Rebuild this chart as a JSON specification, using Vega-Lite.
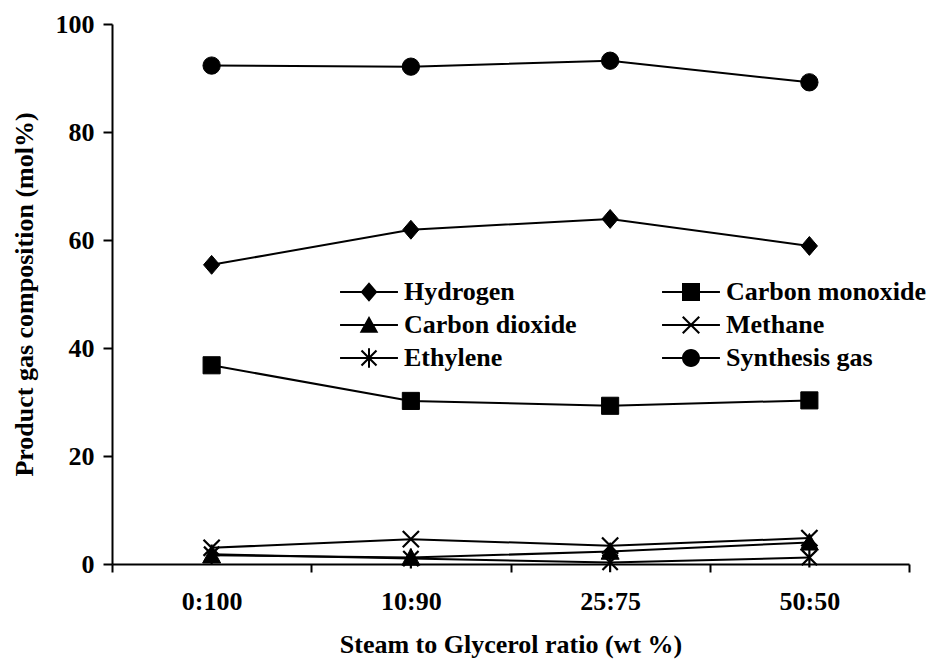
{
  "$schema": "https://vega.github.io/schema/vega-lite/v6.json",
  "width": 797,
  "height": 540,
  "autosize": {"type": "none"},
  "padding": {"left": 112, "top": 24, "right": 30, "bottom": 96},
  "background": "white",
  "config": {"view": {"stroke": null}, "font": "Liberation Serif"},
  "data": {
    "values": [
      {"ratio": "0:100", "gas": "Hydrogen", "value": 55.4},
      {"ratio": "10:90", "gas": "Hydrogen", "value": 61.9},
      {"ratio": "25:75", "gas": "Hydrogen", "value": 63.9},
      {"ratio": "50:50", "gas": "Hydrogen", "value": 58.9},
      {"ratio": "0:100", "gas": "Carbon monoxide", "value": 36.8},
      {"ratio": "10:90", "gas": "Carbon monoxide", "value": 30.2},
      {"ratio": "25:75", "gas": "Carbon monoxide", "value": 29.3},
      {"ratio": "50:50", "gas": "Carbon monoxide", "value": 30.3},
      {"ratio": "0:100", "gas": "Carbon dioxide", "value": 1.6},
      {"ratio": "10:90", "gas": "Carbon dioxide", "value": 1.2},
      {"ratio": "25:75", "gas": "Carbon dioxide", "value": 2.3},
      {"ratio": "50:50", "gas": "Carbon dioxide", "value": 4.0},
      {"ratio": "0:100", "gas": "Methane", "value": 3.0},
      {"ratio": "10:90", "gas": "Methane", "value": 4.6},
      {"ratio": "25:75", "gas": "Methane", "value": 3.4},
      {"ratio": "50:50", "gas": "Methane", "value": 4.8},
      {"ratio": "0:100", "gas": "Ethylene", "value": 1.8},
      {"ratio": "10:90", "gas": "Ethylene", "value": 1.0},
      {"ratio": "25:75", "gas": "Ethylene", "value": 0.3},
      {"ratio": "50:50", "gas": "Ethylene", "value": 1.2},
      {"ratio": "0:100", "gas": "Synthesis gas", "value": 92.3},
      {"ratio": "10:90", "gas": "Synthesis gas", "value": 92.1},
      {"ratio": "25:75", "gas": "Synthesis gas", "value": 93.2},
      {"ratio": "50:50", "gas": "Synthesis gas", "value": 89.2}
    ]
  },
  "encoding": {
    "x": {
      "field": "ratio",
      "type": "nominal",
      "sort": ["0:100", "10:90", "25:75", "50:50"],
      "scale": {"type": "band", "paddingInner": 0, "paddingOuter": 0},
      "axis": {
        "title": "Steam to Glycerol ratio (wt %)",
        "titleFontSize": 26,
        "titleFontWeight": "bold",
        "titleColor": "black",
        "titlePadding": 17,
        "labelAngle": 0,
        "labelFontSize": 26,
        "labelFontWeight": "bold",
        "labelColor": "black",
        "labelPadding": 16,
        "tickBand": "extent",
        "tickSize": 8,
        "tickWidth": 2,
        "tickColor": "black",
        "domainColor": "black",
        "domainWidth": 2,
        "grid": false
      }
    },
    "y": {
      "field": "value",
      "type": "quantitative",
      "scale": {"domain": [0, 100], "nice": false},
      "axis": {
        "title": "Product gas composition (mol%)",
        "titleFontSize": 26,
        "titleFontWeight": "bold",
        "titleColor": "black",
        "titlePadding": 18,
        "values": [0, 20, 40, 60, 80, 100],
        "labelFontSize": 26,
        "labelFontWeight": "bold",
        "labelColor": "black",
        "labelPadding": 9,
        "tickSize": 9,
        "tickWidth": 2,
        "tickColor": "black",
        "domainColor": "black",
        "domainWidth": 2,
        "grid": false
      }
    }
  },
  "layer": [
    {
      "mark": {"type": "line", "color": "black", "strokeWidth": 2},
      "encoding": {"detail": {"field": "gas", "type": "nominal"}}
    },
    {
      "transform": [{"filter": "datum.gas == 'Hydrogen'"}],
      "mark": {"type": "point", "shape": "M0,-1.05L0.9,0L0,1.05L-0.9,0Z", "filled": true, "fill": "black", "stroke": "black", "strokeWidth": 1, "opacity": 1, "size": 324},
      "encoding": {}
    },
    {
      "transform": [{"filter": "datum.gas == 'Carbon monoxide'"}],
      "mark": {"type": "point", "shape": "M-0.95,-0.95H0.95V0.95H-0.95Z", "filled": true, "fill": "black", "stroke": "black", "strokeWidth": 1, "opacity": 1, "size": 324},
      "encoding": {}
    },
    {
      "transform": [{"filter": "datum.gas == 'Carbon dioxide'"}],
      "mark": {"type": "point", "shape": "M0,-1L1,0.85H-1Z", "filled": true, "fill": "black", "stroke": "black", "strokeWidth": 1, "opacity": 1, "size": 324},
      "encoding": {}
    },
    {
      "transform": [{"filter": "datum.gas == 'Methane'"}],
      "mark": {"type": "point", "shape": "M-0.9,-0.9L0.9,0.9M-0.9,0.9L0.9,-0.9", "filled": false, "stroke": "black", "strokeWidth": 2.2, "opacity": 1, "size": 324},
      "encoding": {}
    },
    {
      "transform": [{"filter": "datum.gas == 'Ethylene'"}],
      "mark": {"type": "point", "shape": "M-0.85,-0.85L0.85,0.85M-0.85,0.85L0.85,-0.85M0,-1.1V1.1", "filled": false, "stroke": "black", "strokeWidth": 2.2, "opacity": 1, "size": 324},
      "encoding": {}
    },
    {
      "transform": [{"filter": "datum.gas == 'Synthesis gas'"}],
      "mark": {"type": "point", "shape": "circle", "filled": true, "fill": "black", "stroke": "black", "strokeWidth": 1, "opacity": 1, "size": 300},
      "encoding": {}
    },
    {
      "mark": {"type": "point", "filled": true, "color": "black", "opacity": 0, "size": 900},
      "encoding": {
        "shape": {
          "field": "gas",
          "type": "nominal",
          "scale": {
            "domain": ["Hydrogen", "Carbon dioxide", "Ethylene", "Carbon monoxide", "Methane", "Synthesis gas"],
            "range": [
              "M-1.93,-0.067H1.93V0.067H-1.93ZM0,-0.65L0.56,0L0,0.65L-0.56,0Z",
              "M-1.93,-0.067H1.93V0.067H-1.93ZM0,-0.6L0.62,0.52H-0.62Z",
              "M-1.93,-0.067H1.93V0.067H-1.93ZM-0.45,-0.55L0.55,0.45L0.45,0.55L-0.55,-0.45ZM-0.55,0.45L0.45,-0.55L0.55,-0.45L-0.45,0.55ZM-0.067,-0.65H0.067V0.65H-0.067Z",
              "M-1.93,-0.067H1.93V0.067H-1.93ZM-0.6,-0.6H0.6V0.6H-0.6Z",
              "M-1.93,-0.067H1.93V0.067H-1.93ZM-0.5,-0.6L0.6,0.5L0.5,0.6L-0.6,-0.5ZM-0.6,0.5L0.5,-0.6L0.6,-0.5L-0.5,0.6Z",
              "M-1.93,-0.067H1.93V0.067H-1.93ZM0.6,0A0.6,0.6 0 1 1 -0.6,0A0.6,0.6 0 1 1 0.6,0Z"
            ]
          },
          "legend": {
            "title": null,
            "orient": "none",
            "legendX": 242,
            "legendY": 253,
            "columns": 2,
            "padding": 0,
            "symbolSize": 900,
            "symbolOpacity": 1,
            "symbolFillColor": "black",
            "symbolStrokeWidth": 0,
            "labelFont": "Liberation Serif",
            "labelFontSize": 26,
            "labelFontWeight": "bold",
            "labelColor": "black",
            "labelOffset": 20,
            "labelLimit": 400,
            "columnPadding": 85,
            "rowPadding": 5
          }
        }
      }
    }
  ]
}
